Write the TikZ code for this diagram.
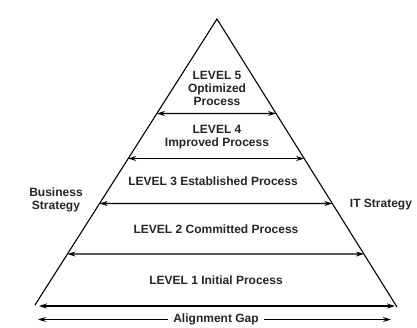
\documentclass[tikz,border=0pt]{standalone}
\usepackage{fontspec}
\setmainfont{Liberation Sans}
\usetikzlibrary{arrows.meta,calc}
\begin{document}
\begin{tikzpicture}[x=1pt,y=-1pt,
  leg/.style={line width=1.1pt,line cap=round},
  gaparrow/.style={line width=1.1pt,{Stealth[length=8pt,width=5pt]}-{Stealth[length=8pt,width=5pt]}},
  onearrow/.style={line width=1.1pt,-{Stealth[length=8pt,width=5pt]}},
  lvl/.style={font=\fontsize{12}{13.3}\selectfont\bfseries,align=center,inner sep=0pt,text=black!85},
  side/.style={font=\fontsize{12}{12.5}\selectfont\bfseries,align=center,inner sep=0pt,text=black!85}]
\useasboundingbox[fill=white] (0,0) rectangle (417,327);

% pyramid outline
\coordinate (apex) at (217,19);
\coordinate (bl) at (35,305);
\coordinate (br) at (397,307);
\draw[leg] (bl) -- (apex) -- (br);

% level boundaries on both legs
\foreach \n/\tl/\tr in {a/0.3304/0.3281, b/0.4878/0.4844, c/0.6451/0.6406, d/0.8217/0.8160}{
  \coordinate (\n L) at ($(apex)!\tl!(bl)$);
  \coordinate (\n R) at ($(apex)!\tr!(br)$);
}
\coordinate (eL) at (39,306);
\coordinate (eR) at (395,306);

\draw[gaparrow] (aL) -- (aR);
\draw[gaparrow] (bL) -- (bR);
\draw[gaparrow] (cL) -- (cR);
\draw[gaparrow] (dL) -- (dR);
\draw[gaparrow] (eL) -- (eR);

% level labels
\node[lvl] (l5) at (217,88.5) {LEVEL 5\\Optimized\\Process};
\node[lvl] (l4) at (217,137) {LEVEL 4\\Improved Process};
\node[lvl] (l3) at (213,181) {LEVEL 3 Established Process};
\node[lvl] (l2) at (216,229) {LEVEL 2 Committed Process};
\node[lvl] (l1) at (216,280) {LEVEL 1 Initial Process};

% side labels
\node[side] (bs) at (56,200) {Business\\Strategy};
\node[side] (it) at (381,205) {IT Strategy};

% alignment gap
\node[side,inner xsep=5pt] (gap) at (216,319.5) {Alignment Gap};
\coordinate (gL) at (38,319.5);
\coordinate (gR) at (391,319.5);
\draw[onearrow] (gap.west) -- (gL);
\draw[onearrow] (gap.east) -- (gR);
\end{tikzpicture}
\end{document}
